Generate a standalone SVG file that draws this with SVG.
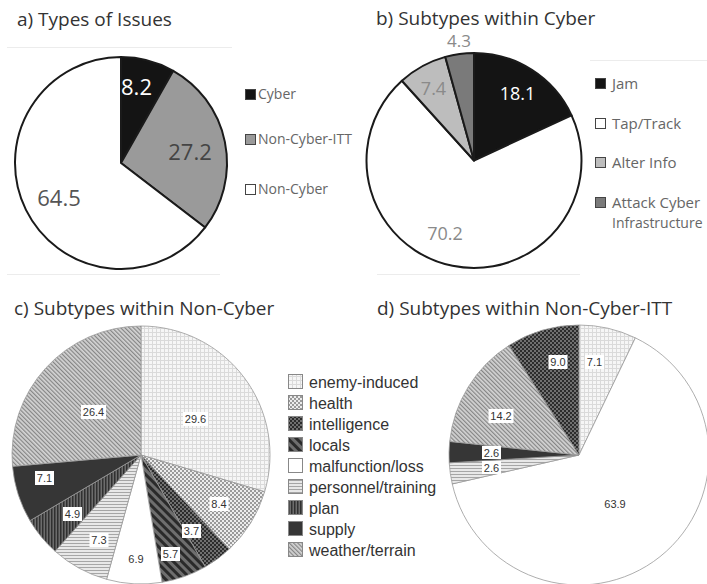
<svg xmlns="http://www.w3.org/2000/svg" width="707" height="584" viewBox="0 0 707 584">
  <style>
    .title { font-family: "Open Sans", "Noto Sans", sans-serif; font-size: 19px; fill: #333; }
    .leg14 { font-family: "Open Sans", "Noto Sans", sans-serif; font-size: 14px; fill: #666; }
    .leg15 { font-family: "Open Sans", "Noto Sans", sans-serif; font-size: 15px; fill: #666; }
    .legc { font-family: "Liberation Sans", Arial, sans-serif; font-size: 16px; fill: #333; }
    .bigval { font-family: "Open Sans", "Noto Sans", sans-serif; font-size: 22px; text-anchor: middle; }
    .midval { font-family: "Open Sans", "Noto Sans", sans-serif; font-size: 18px; text-anchor: middle; }
    .smallval { font-family: "Liberation Sans", Arial, sans-serif; font-size: 11px; fill: #333; text-anchor: middle; }
    .solidpie path { stroke: #1a1a1a; stroke-width: 2; stroke-linejoin: round; }
    .hatchpie path { stroke: #999; stroke-width: 0.8; stroke-linejoin: round; }
    .frame { stroke: #ececec; stroke-width: 1; fill: none; }
    .box { fill: #fff; }
    .sw { stroke: #444; stroke-width: 1; }
    .swc { stroke: #888; stroke-width: 1; }
  </style>
  <defs>
    <pattern id="pEnemy" width="4" height="4" patternUnits="userSpaceOnUse">
      <rect width="4" height="4" fill="#f6f6f6"/>
      <path d="M0 0.5H4M0.5 0V4" stroke="#dadada" stroke-width="1"/>
    </pattern>
    <pattern id="pHealth" width="4" height="4" patternUnits="userSpaceOnUse">
      <rect width="4" height="4" fill="#ececec"/>
      <rect width="2" height="2" fill="#9a9a9a"/>
      <rect x="2" y="2" width="2" height="2" fill="#9a9a9a"/>
    </pattern>
    <pattern id="pIntel" width="4" height="4" patternUnits="userSpaceOnUse">
      <rect width="4" height="4" fill="#2c2c2c"/>
      <rect width="2" height="2" fill="#707070"/>
      <rect x="2" y="2" width="2" height="2" fill="#707070"/>
    </pattern>
    <pattern id="pLocals" width="6" height="6" patternUnits="userSpaceOnUse" patternTransform="rotate(-45)">
      <rect width="6" height="6" fill="#6e6e6e"/>
      <rect width="3" height="6" fill="#2a2a2a"/>
    </pattern>
    <pattern id="pPers" width="4" height="3" patternUnits="userSpaceOnUse">
      <rect width="4" height="3" fill="#e8e8e8"/>
      <rect width="4" height="1" fill="#a6a6a6"/>
    </pattern>
    <pattern id="pPlan" width="3" height="4" patternUnits="userSpaceOnUse">
      <rect width="3" height="4" fill="#6c6c6c"/>
      <rect width="1.5" height="4" fill="#303030"/>
    </pattern>
    <pattern id="pWeather" width="3" height="3" patternUnits="userSpaceOnUse" patternTransform="rotate(-45)">
      <rect width="3" height="3" fill="#d4d4d4"/>
      <rect width="1.2" height="3" fill="#858585"/>
    </pattern>
  </defs>

  <rect width="707" height="584" fill="#fff"/>

  <!-- a) Types of Issues -->
  <g id="panel-a">
    <text class="title" x="17" y="26">a) Types of Issues</text>
    <path class="frame" d="M7 47.5H232M7 274.5H220"/>
    <g id="pie-a" class="solidpie">
      <path id="a-cyber" d="M121,163 L121,57 A106,106 0 0 1 173.23,70.76 Z" fill="#141414"/>
      <path id="a-itt" d="M121,163 L173.23,70.76 A106,106 0 0 1 205.16,227.45 Z" fill="#9a9a9a"/>
      <path id="a-noncyber" d="M121,163 L205.16,227.45 A106,106 0 1 1 121,57 Z" fill="#fff"/>
    </g>
    <text class="bigval" x="136.5" y="95" fill="#fff">8.2</text>
    <text class="bigval" x="190" y="160" fill="#444">27.2</text>
    <text class="bigval" x="59" y="206" fill="#555">64.5</text>
    <g id="legend-a">
      <rect class="sw" x="245.5" y="89.5" width="10" height="10" fill="#141414"/>
      <text class="leg14" x="258" y="99">Cyber</text>
      <rect class="sw" x="245.5" y="134.5" width="10" height="10" fill="#9a9a9a"/>
      <text class="leg14" x="258" y="144">Non-Cyber-ITT</text>
      <rect class="sw" x="245.5" y="184.5" width="10" height="10" fill="#fff"/>
      <text class="leg14" x="258" y="194">Non-Cyber</text>
    </g>
  </g>

  <!-- b) Subtypes within Cyber -->
  <g id="panel-b">
    <text class="title" x="376" y="25">b) Subtypes within Cyber</text>
    <path class="frame" d="M590 60.5H707M377 274.5H580"/>
    <g id="pie-b" class="solidpie">
      <path id="b-jam" d="M474,160.5 L474,53 A107.5,107.5 0 0 1 571.55,115.35 Z" fill="#141414"/>
      <path id="b-tap" d="M474,160.5 L571.55,115.35 A107.5,107.5 0 1 1 401.9,80.77 Z" fill="#fff"/>
      <path id="b-alter" d="M474,160.5 L401.9,80.77 A107.5,107.5 0 0 1 445.31,56.91 Z" fill="#bdbdbd"/>
      <path id="b-attack" d="M474,160.5 L445.31,56.91 A107.5,107.5 0 0 1 474,53 Z" fill="#7a7a7a"/>
    </g>
    <text class="midval" x="517.5" y="100" fill="#fff">18.1</text>
    <text class="midval" x="433.5" y="95" fill="#8a8a8a">7.4</text>
    <text class="midval" x="459" y="47" fill="#8a8a8a" style="font-size:17px">4.3</text>
    <text class="midval" x="445" y="240" fill="#8a8a8a">70.2</text>
    <g id="legend-b">
      <rect class="sw" x="595.5" y="78.5" width="10" height="10" fill="#141414"/>
      <text class="leg15" x="612" y="88.5">Jam</text>
      <rect class="sw" x="595.5" y="118.5" width="10" height="10" fill="#fff"/>
      <text class="leg15" x="612" y="128.5">Tap/Track</text>
      <rect class="sw" x="595.5" y="157.5" width="10" height="10" fill="#bdbdbd"/>
      <text class="leg15" x="612" y="167.5">Alter Info</text>
      <rect class="sw" x="595.5" y="197.5" width="10" height="10" fill="#7a7a7a"/>
      <text class="leg15" x="612" y="207.5">Attack Cyber</text>
      <text class="leg14" x="612" y="227.5">Infrastructure</text>
    </g>
  </g>

  <!-- c) Subtypes within Non-Cyber -->
  <g id="panel-c">
    <text class="title" x="14" y="315">c) Subtypes within Non-Cyber</text>
    <g id="pie-c" class="hatchpie">
      <path id="c-enemy" d="M141,455 L141,326 A129,129 0 0 1 264.65,491.77 Z" fill="url(#pEnemy)"/>
      <path id="c-health" d="M141,455 L264.65,491.77 A129,129 0 0 1 229.3,549.04 Z" fill="url(#pHealth)"/>
      <path id="c-intel" d="M141,455 L229.3,549.04 A129,129 0 0 1 205.27,566.86 Z" fill="url(#pIntel)"/>
      <path id="c-locals" d="M141,455 L205.27,566.86 A129,129 0 0 1 161.98,582.28 Z" fill="url(#pLocals)"/>
      <path id="c-malf" d="M141,455 L161.98,582.28 A129,129 0 0 1 106.57,579.32 Z" fill="#fff"/>
      <path id="c-pers" d="M141,455 L106.57,579.32 A129,129 0 0 1 55.09,551.23 Z" fill="url(#pPers)"/>
      <path id="c-plan" d="M141,455 L55.09,551.23 A129,129 0 0 1 29.97,520.66 Z" fill="url(#pPlan)"/>
      <path id="c-supply" d="M141,455 L29.97,520.66 A129,129 0 0 1 12.5,466.33 Z" fill="#363636"/>
      <path id="c-weather" d="M141,455 L12.5,466.33 A129,129 0 0 1 141,326 Z" fill="url(#pWeather)"/>
    </g>
    <g id="labels-c">
      <rect class="box" x="183" y="412" width="25" height="14"/><text class="smallval" x="195.5" y="423">29.6</text>
      <rect class="box" x="81" y="405" width="25" height="14"/><text class="smallval" x="93.5" y="416">26.4</text>
      <rect class="box" x="209.5" y="497" width="19" height="14"/><text class="smallval" x="219" y="508">8.4</text>
      <rect class="box" x="182" y="524" width="19" height="14"/><text class="smallval" x="191.5" y="535">3.7</text>
      <rect class="box" x="161" y="547" width="19" height="14"/><text class="smallval" x="170.5" y="558">5.7</text>
      <rect class="box" x="126.5" y="552" width="19" height="14"/><text class="smallval" x="136" y="563">6.9</text>
      <rect class="box" x="89.5" y="533" width="19" height="14"/><text class="smallval" x="99" y="544">7.3</text>
      <rect class="box" x="63" y="507" width="19" height="14"/><text class="smallval" x="72.5" y="518">4.9</text>
      <rect class="box" x="35" y="471" width="19" height="14"/><text class="smallval" x="44.5" y="482">7.1</text>
    </g>
    <g id="legend-c">
      <rect class="swc" x="288.5" y="374.5" width="14" height="14" fill="url(#pEnemy)"/>
      <text class="legc" x="309" y="387.5">enemy-induced</text>
      <rect class="swc" x="288.5" y="395.5" width="14" height="14" fill="url(#pHealth)"/>
      <text class="legc" x="309" y="408.5">health</text>
      <rect class="swc" x="288.5" y="416.5" width="14" height="14" fill="url(#pIntel)"/>
      <text class="legc" x="309" y="429.5">intelligence</text>
      <rect class="swc" x="288.5" y="437.5" width="14" height="14" fill="url(#pLocals)"/>
      <text class="legc" x="309" y="450.5">locals</text>
      <rect class="swc" x="288.5" y="458.5" width="14" height="14" fill="#fff"/>
      <text class="legc" x="309" y="471.5">malfunction/loss</text>
      <rect class="swc" x="288.5" y="479.5" width="14" height="14" fill="url(#pPers)"/>
      <text class="legc" x="309" y="492.5">personnel/training</text>
      <rect class="swc" x="288.5" y="500.5" width="14" height="14" fill="url(#pPlan)"/>
      <text class="legc" x="309" y="513.5">plan</text>
      <rect class="swc" x="288.5" y="521.5" width="14" height="14" fill="#363636"/>
      <text class="legc" x="309" y="534.5">supply</text>
      <rect class="swc" x="288.5" y="542.5" width="14" height="14" fill="url(#pWeather)"/>
      <text class="legc" x="309" y="555.5">weather/terrain</text>
    </g>
  </g>

  <!-- d) Subtypes within Non-Cyber-ITT -->
  <g id="panel-d">
    <text class="title" x="377" y="315">d) Subtypes within Non-Cyber-ITT</text>
    <g id="pie-d" class="hatchpie">
      <path id="d-enemy" d="M579,455 L579,325 A130,130 0 0 1 635.39,337.87 Z" fill="url(#pEnemy)"/>
      <path id="d-malf" d="M579,455 L635.39,337.87 A130,130 0 1 1 452.26,483.93 Z" fill="#fff"/>
      <path id="d-pers" d="M579,455 L452.26,483.93 A130,130 0 0 1 449.23,462.8 Z" fill="url(#pPers)"/>
      <path id="d-supply" d="M579,455 L449.23,462.8 A130,130 0 0 1 449.7,441.45 Z" fill="#363636"/>
      <path id="d-weather" d="M579,455 L449.7,441.45 A130,130 0 0 1 508.96,345.47 Z" fill="url(#pWeather)"/>
      <path id="d-intel" d="M579,455 L508.96,345.47 A130,130 0 0 1 579,325 Z" fill="url(#pIntel)"/>
    </g>
    <g id="labels-d">
      <rect class="box" x="548.5" y="355" width="19" height="14"/><text class="smallval" x="558" y="366">9.0</text>
      <rect class="box" x="585" y="355" width="19" height="14"/><text class="smallval" x="594.5" y="366">7.1</text>
      <rect class="box" x="488.5" y="409" width="25" height="14"/><text class="smallval" x="501" y="420">14.2</text>
      <rect class="box" x="482" y="446" width="19" height="13"/><text class="smallval" x="491.5" y="457">2.6</text>
      <rect class="box" x="482" y="461" width="19" height="13"/><text class="smallval" x="491.5" y="472">2.6</text>
      <text class="smallval" x="615" y="508">63.9</text>
    </g>
  </g>
</svg>
